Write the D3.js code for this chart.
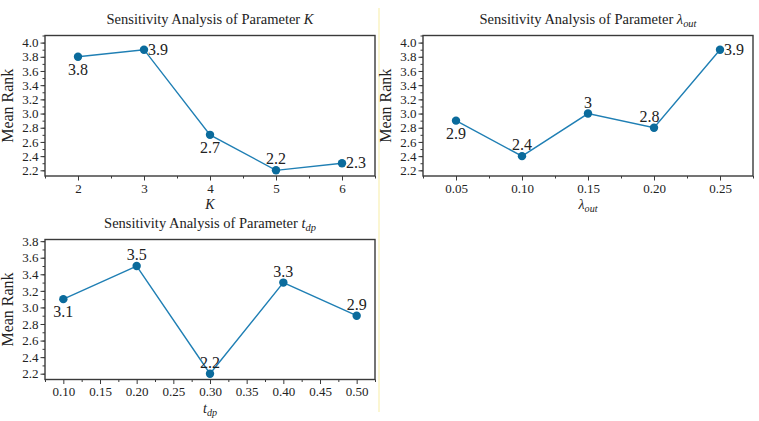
<!DOCTYPE html>
<html>
<head>
<meta charset="utf-8">
<script src="https://cdn.jsdelivr.net/npm/d3@7"></script>
<style>
  body { margin: 0; background: #fff; }
  svg text { font-family: "Liberation Serif", "Times New Roman", serif; fill: #222; }
</style>
</head>
<body>
<svg class="chart" width="759" height="421"></svg>
<script>
// values
const kValues = [2, 3, 4, 5, 6]
const kRanks = [3.8, 3.9, 2.7, 2.2, 2.3]
const kLabelPos = ['below', 'right', 'below', 'above', 'right']

const lambdaValues = [0.05, 0.10, 0.15, 0.20, 0.25]
const lambdaRanks = [2.9, 2.4, 3.0, 2.8, 3.9]
const lambdaLabelPos = ['below', 'above', 'above', 'aboveleft', 'right']

const tdpValues = [0.10, 0.20, 0.30, 0.40, 0.50]
const tdpRanks = [3.1, 3.5, 2.2, 3.3, 2.9]
const tdpLabelPos = ['below', 'above', 'above', 'above', 'above']

const kTicks = [2, 3, 4, 5, 6]
const lambdaTicks = [0.05, 0.10, 0.15, 0.20, 0.25]
const tdpTicks = [0.10, 0.15, 0.20, 0.25, 0.30, 0.35, 0.40, 0.45, 0.50]
const rankTicks = [2.2, 2.4, 2.6, 2.8, 3.0, 3.2, 3.4, 3.6, 3.8, 4.0]
const rankTicks3 = [2.2, 2.4, 2.6, 2.8, 3.0, 3.2, 3.4, 3.6, 3.8]

const lineColor = '#1f7fb4'
const dotColor = '#0b6b9c'
const frameColor = '#3a3a3a'

const svg = d3.select('svg.chart')

// faint yellow divider seen in the picture
svg.append('line')
	.attr('x1', 379).attr('x2', 379).attr('y1', 8).attr('y2', 412)
	.attr('stroke', '#fbf6d2').attr('stroke-width', 2)

const panels = [
	{
		box: [45, 375, 35.5, 176], xDomain: [1.5, 6.5], yDomain: [2.12, 4.1],
		xs: kValues, ys: kRanks, pos: kLabelPos,
		xTicks: kTicks, xMinor: [1.5, 2.5, 3.5, 4.5, 5.5, 6.5], xFmt: d3.format('d'),
		yTicks: rankTicks, yFmt: d3.format('.1f'),
		title: ['Sensitivity Analysis of Parameter ', 'K', null],
		xLabel: ['K', null],
	},
	{
		box: [423, 753, 35.5, 176], xDomain: [0.025, 0.275], yDomain: [2.12, 4.1],
		xs: lambdaValues, ys: lambdaRanks, pos: lambdaLabelPos,
		xTicks: lambdaTicks, xMinor: [0.025, 0.075, 0.125, 0.175, 0.225, 0.275], xFmt: d3.format('.2f'),
		yTicks: rankTicks, yFmt: d3.format('.1f'),
		title: ['Sensitivity Analysis of Parameter ', 'λ', 'out'],
		xLabel: ['λ', 'out'],
	},
	{
		box: [45, 375, 239.5, 379.5], xDomain: [0.075, 0.525], yDomain: [2.13, 3.82],
		xs: tdpValues, ys: tdpRanks, pos: tdpLabelPos,
		xTicks: tdpTicks, xMinor: [0.075, 0.125, 0.175, 0.225, 0.275, 0.325, 0.375, 0.425, 0.475, 0.525], xFmt: d3.format('.2f'),
		yTicks: rankTicks3, yFmt: d3.format('.1f'),
		title: ['Sensitivity Analysis of Parameter ', 't', 'dp'],
		xLabel: ['t', 'dp'],
	},
]

function italicWithSub(text, main, sub) {
	text.append('tspan').attr('font-style', 'italic').text(main)
	if (sub) {
		text.append('tspan').attr('font-style', 'italic').attr('font-size', '0.72em')
			.attr('dy', '0.3em').text(sub)
	}
}

panels.forEach(p => {
	const [x0, x1, y0, y1] = p.box
	const x = d3.scaleLinear().domain(p.xDomain).range([x0, x1])
	const y = d3.scaleLinear().domain(p.yDomain).range([y1, y0])
	const g = svg.append('g')

	// minor ticks
	const yMinor = d3.range(Math.ceil(p.yDomain[0] * 10), Math.floor(p.yDomain[1] * 10) + 1).map(v => v / 10)
	g.append('g')
		.attr('transform', `translate(${x0},0)`)
		.call(d3.axisLeft(y).tickValues(yMinor).tickSize(2.5).tickFormat(''))
		.call(a => a.select('.domain').remove())
		.call(a => a.selectAll('line').attr('stroke', frameColor))
	g.append('g')
		.attr('transform', `translate(0,${y1})`)
		.call(d3.axisBottom(x).tickValues(p.xMinor).tickSize(2.5).tickFormat(''))
		.call(a => a.select('.domain').remove())
		.call(a => a.selectAll('line').attr('stroke', frameColor))

	// major ticks
	g.append('g')
		.attr('transform', `translate(${x0},0)`)
		.call(d3.axisLeft(y).tickValues(p.yTicks).tickSize(4.5).tickPadding(2).tickFormat(p.yFmt))
		.call(a => a.select('.domain').remove())
		.call(a => a.selectAll('line').attr('stroke', frameColor))
		.call(a => a.selectAll('text').attr('font-size', 13).attr('font-family', '"Liberation Serif", serif').attr('fill', '#444'))
	g.append('g')
		.attr('transform', `translate(0,${y1})`)
		.call(d3.axisBottom(x).tickValues(p.xTicks).tickSize(4.5).tickPadding(3).tickFormat(p.xFmt))
		.call(a => a.select('.domain').remove())
		.call(a => a.selectAll('line').attr('stroke', frameColor))
		.call(a => a.selectAll('text').attr('font-size', 13).attr('font-family', '"Liberation Serif", serif').attr('fill', '#444'))

	// frame
	g.append('rect')
		.attr('x', x0).attr('y', y0).attr('width', x1 - x0).attr('height', y1 - y0)
		.attr('fill', 'none').attr('stroke', frameColor).attr('stroke-width', 1.4)

	// series
	const pts = p.xs.map((v, i) => [v, p.ys[i], p.pos[i]])
	g.append('path')
		.datum(pts)
		.attr('d', d3.line().x(d => x(d[0])).y(d => y(d[1])))
		.attr('fill', 'none').attr('stroke', lineColor).attr('stroke-width', 1.4)
	g.selectAll('circle')
		.data(pts)
		.enter().append('circle')
		.attr('cx', d => x(d[0])).attr('cy', d => y(d[1])).attr('r', 4.2)
		.attr('fill', dotColor)

	const offs = {
		below: [0, 18, 'middle'],
		above: [0, -6, 'middle'],
		aboveleft: [-4.5, -6, 'middle'],
		right: [4, 5, 'start'],
	}
	g.selectAll('text.lbl')
		.data(pts)
		.enter().append('text')
		.attr('class', 'lbl')
		.attr('x', d => x(d[0]) + offs[d[2]][0])
		.attr('y', d => y(d[1]) + offs[d[2]][1])
		.attr('text-anchor', d => offs[d[2]][2])
		.attr('font-size', 16)
		.text(d => d3.format('')(d[1]))

	// title
	const t = g.append('text')
		.attr('x', (x0 + x1) / 2).attr('y', y0 - 12)
		.attr('text-anchor', 'middle').attr('font-size', 14.5)
	t.append('tspan').text(p.title[0])
	italicWithSub(t, p.title[1], p.title[2])

	// x label
	const xl = g.append('text')
		.attr('x', (x0 + x1) / 2).attr('y', y1 + 33)
		.attr('text-anchor', 'middle').attr('font-size', 14)
	italicWithSub(xl, p.xLabel[0], p.xLabel[1])

	// y label
	g.append('text')
		.attr('transform', `translate(${x0 - 32},${(y0 + y1) / 2}) rotate(-90)`)
		.attr('text-anchor', 'middle').attr('font-size', 16)
		.text('Mean Rank')
})
</script>
</body>
</html>
